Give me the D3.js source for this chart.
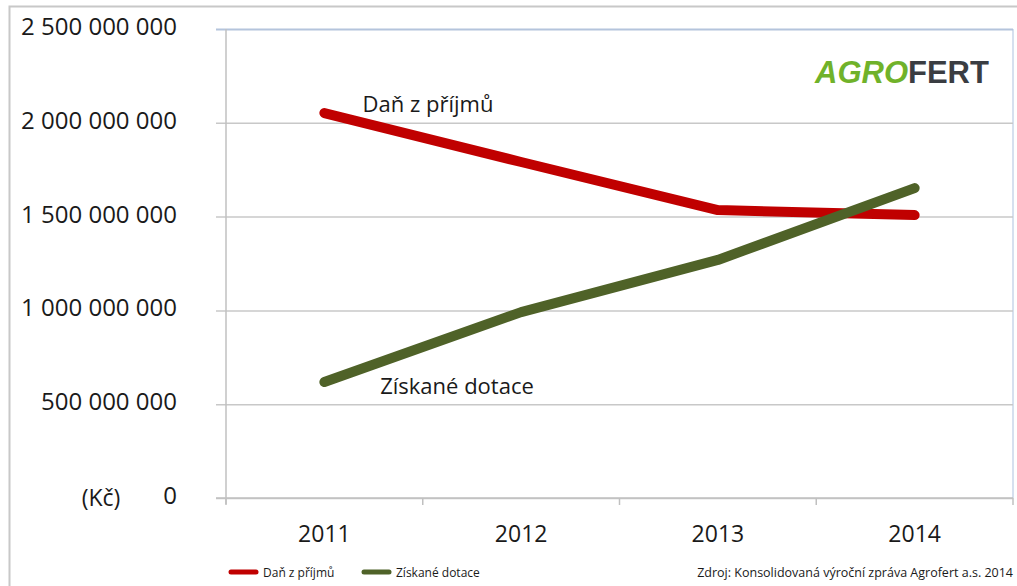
<!DOCTYPE html>
<html><head><meta charset="utf-8">
<script src="https://cdn.jsdelivr.net/npm/d3@7/dist/d3.min.js"></script>
<style>
html,body{margin:0;padding:0;background:#fff;}
svg{display:block;font-family:"Open Sans",sans-serif;}
</style></head>
<body>
<svg id="c" width="1017" height="586"></svg>
<script>
const years = ["2011","2012","2013","2014"];
const danZPrijmu = [2052000000, 1791000000, 1535000000, 1508000000];
const ziskaneDotace = [618000000, 991000000, 1269000000, 1652000000];
const yTicks = [0, 500000000, 1000000000, 1500000000, 2000000000, 2500000000];
const seriesNames = ["Daň z příjmů", "Získané dotace"];
const seriesColors = ["#c00000", "#4f6228"];

const svg = d3.select("#c");
const L = 226, R = 1013, T = 29, B = 498;

// outer frame
svg.append("path").attr("d", "M9.5,600 V6.5 H1020").attr("fill","none").attr("stroke","#c8c8c8").attr("stroke-width",2);

const x = d3.scaleBand().domain(years).range([L, R]).padding(0);
const y = d3.scaleLinear().domain([0, 2500000000]).range([B, T]);

// plot border
svg.append("line").attr("x1",R).attr("x2",R).attr("y1",T).attr("y2",B).attr("stroke","#c8d6ea").attr("stroke-width",1.5);

// gridlines + y ticks
const fmt = v => d3.format(",")(v).replace(/,/g, " ");
const yAxis = d3.axisLeft(y).tickValues(yTicks).tickSize(-(R - L)).tickFormat(() => "");
const gy = svg.append("g").attr("transform", `translate(${L},0)`).call(yAxis);
gy.select(".domain").remove();
gy.selectAll(".tick line").attr("stroke","#c8c8c8").attr("stroke-width",1.5).attr("x1",-10);
gy.selectAll(".tick line").filter(d=>d===2500000000).attr("stroke","#b4c4dc").attr("stroke-width",2);
gy.selectAll(".tick text").remove();

svg.selectAll(".ylab").data(yTicks).enter().append("text")
  .attr("class","ylab").attr("x",177).attr("y", d => y(d) + 6).attr("text-anchor","end")
  .style("font-size","24px").style("fill","#1a1a1a").text(fmt);

// y axis line
svg.append("line").attr("x1",L).attr("x2",L).attr("y1",T).attr("y2",B+6).attr("stroke","#c0c0c0").attr("stroke-width",1.5);

// x axis
const xAxis = d3.axisBottom(x).tickSize(0).tickPadding(0);
const gx = svg.append("g").attr("transform", `translate(0,${B})`).call(xAxis);
gx.select(".domain").remove();
gx.selectAll(".tick text").attr("y", 44).attr("dy", 0)
  .style("font-size","23px").style("fill","#1a1a1a").style("font-family","'Open Sans',sans-serif");
svg.append("line").attr("x1",L-10).attr("x2",R).attr("y1",B).attr("y2",B).attr("stroke","#c0c0c0").attr("stroke-width",1.5);
// boundary tick marks
const bounds = years.map(d => x(d)).concat([x(years[years.length-1]) + x.bandwidth()]);
svg.selectAll(".xb").data(bounds).enter().append("line")
  .attr("x1", d=>d).attr("x2", d=>d).attr("y1", B).attr("y2", B+7)
  .attr("stroke","#c0c0c0").attr("stroke-width",1.5);

// unit label
svg.append("text").attr("x",101).attr("y",506).attr("text-anchor","middle")
  .style("font-size","23px").style("fill","#1a1a1a").text("(Kč)");

// lines
const line = d3.line().x((d,i)=>x(years[i]) + x.bandwidth()/2).y(d=>y(d));
[danZPrijmu, ziskaneDotace].forEach((s, k) => {
  svg.append("path").datum(s).attr("d", line).attr("fill","none")
    .attr("stroke", seriesColors[k]).attr("stroke-width", 10)
    .attr("stroke-linecap","round").attr("stroke-linejoin","round");
});

// direct labels
svg.append("text").attr("x",428).attr("y",112).attr("text-anchor","middle")
  .style("font-size","22px").style("fill","#1a1a1a").text(seriesNames[0]);
svg.append("text").attr("x",457).attr("y",394).attr("text-anchor","middle")
  .style("font-size","22px").style("fill","#1a1a1a").text(seriesNames[1]);

// logo
const logo = svg.append("text").attr("x",815).attr("y",83)
  .style("font-family","'Liberation Sans',Arial,sans-serif").style("font-weight","bold")
  .style("font-size","31px").style("letter-spacing","0px");
logo.append("tspan").attr("fill","#70b22a").style("font-style","italic").text("AGRO");
logo.append("tspan").attr("fill","#3a3d42").text("FERT");

// legend
const leg = [[229, 263], [362, 396]];
seriesNames.forEach((n, k) => {
  svg.append("line").attr("x1", leg[k][0]+2).attr("x2", leg[k][0]+27).attr("y1",572).attr("y2",572)
    .attr("stroke", seriesColors[k]).attr("stroke-width",5).attr("stroke-linecap","round");
  svg.append("text").attr("x", leg[k][1]).attr("y", 577).style("font-size","12px").style("fill","#1a1a1a").text(n);
});
svg.append("text").attr("x",1013).attr("y",577).attr("text-anchor","end")
  .style("font-size","12.5px").style("fill","#1a1a1a").text("Zdroj: Konsolidovaná výroční zpráva Agrofert a.s. 2014");
</script>
</body></html>
